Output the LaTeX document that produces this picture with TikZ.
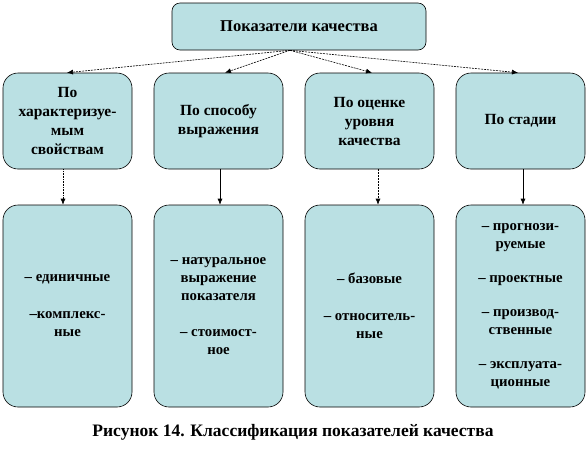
\documentclass[tikz,border=0pt]{standalone}
\usepackage{fontspec}
\setmainfont{Liberation Serif}[BoldFont={Liberation Serif Bold}]
\usetikzlibrary{arrows.meta}
\definecolor{boxfill}{RGB}{186,224,227}
\tikzset{
  box/.style={draw=black, line width=0.6pt, fill=boxfill, rounded corners=15pt,
    minimum width=129pt, inner sep=0pt, align=center,
    font=\rmfamily\bfseries\fontsize{15.5}{19}\selectfont},
  topbox/.style={box, rounded corners=8pt, minimum width=254pt, minimum height=47pt,
    font=\rmfamily\bfseries\fontsize{16.5}{19}\selectfont},
  rowtwo/.style={box, minimum height=96pt},
  rowthree/.style={box, minimum height=202pt, font=\rmfamily\bfseries\fontsize{14.8}{18}\selectfont},
  arr/.style={-{Latex[length=6pt,width=5pt]}, line width=0.6pt},
  fan/.style={arr, densely dashed, dash pattern=on 2pt off 1pt}
}
\begin{document}
\begin{tikzpicture}[x=1pt,y=-1pt]
\useasboundingbox (0,0) rectangle (587,456);
\node[topbox] (top) at (299,26.5) {Показатели качества};
\node[rowtwo] (a1) at (67.5,121) {По\\характеризуе-\\мым\\свойствам};
\node[rowtwo] (a2) at (218.5,121) {По способу\\выражения};
\node[rowtwo] (a3) at (369.5,121) {По оценке\\уровня\\качества};
\node[rowtwo] (a4) at (520.5,121) {По стадии};
\node[rowthree] (b1) at (67.5,306) {– единичные\\[19pt]–комплекс-\\ные};
\node[rowthree] (b2) at (218.5,306) {– натуральное\\выражение\\показателя\\[18pt]– стоимост-\\ное};
\node[rowthree] (b3) at (369.5,306) {– базовые\\[19pt]– относитель-\\ные};
\node[rowthree] (b4) at (520.5,306) {– прогнози-\\руемые\\[16pt]– проектные\\[16pt]– производ-\\ственные\\[16pt]– эксплуата-\\ционные};
\draw[fan] ([xshift=-9pt]top.south) -- ([xshift=-0.5pt]a1.north);
\draw[fan] ([xshift=-9pt]top.south) -- ([xshift=6.5pt]a2.north);
\draw[fan] ([xshift=-9pt]top.south) -- ([xshift=2.5pt]a3.north);
\draw[fan] ([xshift=-9pt]top.south) -- ([xshift=-2.5pt]a4.north);
\draw[arr, densely dotted] ([xshift=-4.5pt]a1.south) -- ([xshift=-4.5pt]b1.north);
\draw[arr] ([xshift=1.5pt]a2.south) -- ([xshift=1.5pt]b2.north);
\draw[arr, densely dashed, dash pattern=on 2pt off 1pt] ([xshift=8.5pt]a3.south) -- ([xshift=8.5pt]b3.north);
\draw[arr] ([xshift=2.5pt]a4.south) -- ([xshift=2.5pt]b4.north);
\node[font=\rmfamily\bfseries\fontsize{17.5}{20}\selectfont] (cap) at (293,432) {Рисунок 14. Классификация показателей качества};
\end{tikzpicture}
\end{document}
